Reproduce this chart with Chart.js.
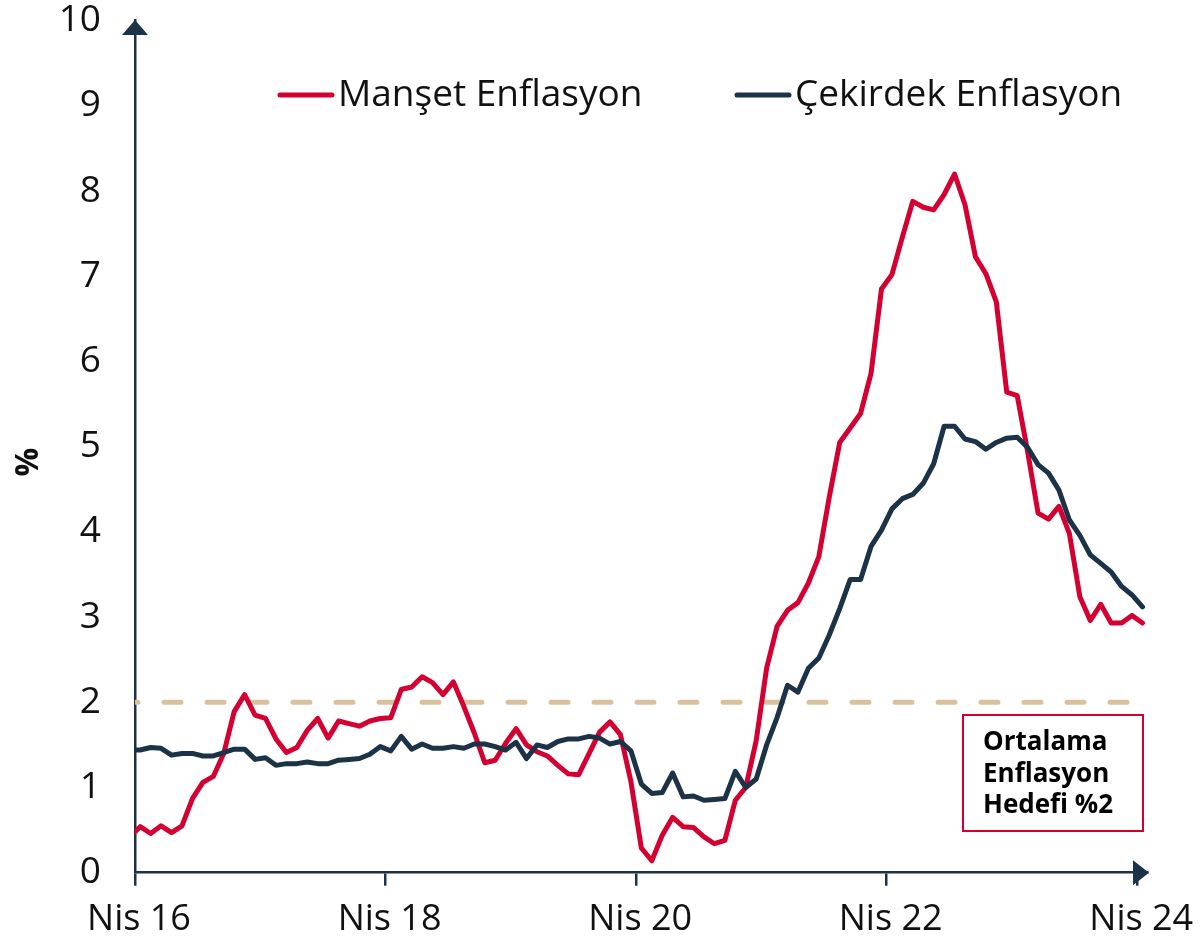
<!DOCTYPE html>
<html>
<head>
<meta charset="utf-8">
<title>Manşet ve Çekirdek Enflasyon</title>
<script src="https://cdn.jsdelivr.net/npm/chart.js@4.4.1/dist/chart.umd.min.js"></script>
<style>
  html, body { margin: 0; padding: 0; background: #fff; }
  #wrap { width: 1201px; height: 948px; }
</style>
</head>
<body>
<div id="wrap"><canvas id="lineChart" width="1201" height="948"></canvas></div>
<script>
// months from Mar 16 to Nis 24 (Turkish short names)
const monthNames = ["Oca", "Şub", "Mar", "Nis", "May", "Haz", "Tem", "Ağu", "Eyl", "Eki", "Kas", "Ara"];
const allMonths = [];
for (let y = 2016; y <= 2024; y++) {
  monthNames.forEach((m) => allMonths.push(m + " " + String(y).slice(2)));
}
const months = allMonths.slice(allMonths.indexOf("Mar 16"), allMonths.indexOf("Nis 24") + 1);

const xTickLabels = ["Nis 16", "Nis 18", "Nis 20", "Nis 22", "Nis 24"];
const yTicks = [0, 1, 2, 3, 4, 5, 6, 7, 8, 9, 10];

// Manşet Enflasyon (%), Mar 16 .. Nis 24
const manset = [
  0.42,
  0.54, 0.46, 0.55, 0.47, 0.55, 0.87, 1.06, 1.13, 1.40, 1.89, 2.09, 1.85,
  1.81, 1.57, 1.41, 1.47, 1.67, 1.81, 1.58, 1.78, 1.75, 1.72, 1.78, 1.81,
  1.82, 2.15, 2.18, 2.30, 2.23, 2.09, 2.24, 1.95, 1.64, 1.29, 1.32, 1.52,
  1.69, 1.50, 1.42, 1.37, 1.26, 1.16, 1.15, 1.40, 1.65, 1.77, 1.62, 1.07,
  0.29, 0.14, 0.44, 0.65, 0.54, 0.53, 0.42, 0.34, 0.38, 0.85, 1.00, 1.55,
  2.40, 2.89, 3.08, 3.17, 3.40, 3.71, 4.41, 5.05, 5.22, 5.39, 5.86, 6.85,
  7.02, 7.46, 7.88, 7.81, 7.78, 7.96, 8.20, 7.84, 7.23, 7.03, 6.70, 5.64,
  5.60, 4.94, 4.22, 4.15, 4.30, 3.98, 3.24, 2.96, 3.15, 2.93, 2.93, 3.02,
  2.93
];

// Çekirdek Enflasyon (%), Mar 16 .. Nis 24
const cekirdek = [
  1.44,
  1.44, 1.47, 1.46, 1.38, 1.40, 1.40, 1.37, 1.37, 1.41, 1.45, 1.45, 1.33,
  1.35, 1.26, 1.28, 1.28, 1.30, 1.28, 1.28, 1.32, 1.33, 1.34, 1.39, 1.48,
  1.43, 1.60, 1.45, 1.51, 1.46, 1.46, 1.48, 1.46, 1.51, 1.51, 1.48, 1.44,
  1.53, 1.34, 1.50, 1.47, 1.54, 1.57, 1.57, 1.60, 1.58, 1.51, 1.54, 1.43,
  1.04, 0.93, 0.94, 1.17, 0.89, 0.90, 0.85, 0.86, 0.87, 1.19, 1.00, 1.10,
  1.50, 1.82, 2.20, 2.12, 2.40, 2.52, 2.79, 3.10, 3.44, 3.44, 3.83, 4.02,
  4.27, 4.39, 4.44, 4.57, 4.80, 5.24, 5.24, 5.09, 5.06, 4.97, 5.05, 5.10,
  5.11, 4.99, 4.79, 4.69, 4.49, 4.14, 3.96, 3.73, 3.63, 3.53, 3.36, 3.26,
  3.12
];

const targetRate = 2;
const targetText = ["Ortalama", "Enflasyon", "Hedefi %2"];

const RED = "#D50032";
const NAVY = "#1C3247";
const TAN = "#D8C29D";
const FONT = "'Open Sans', 'Noto Sans', sans-serif";

// x = months since start of Nis 16, point in mid-month
const toPoints = (arr) => arr.map((v, i) => ({ x: i - 0.5, y: v }));
const lastX = months.length - 1.5;

// legend, arrows, axis title and the target box
const overlay = {
  id: "overlay",
  afterDraw(chart) {
    const { ctx, chartArea } = chart;
    const left = chartArea.left;
    const bottom = chartArea.bottom;
    ctx.save();

    // axis arrows
    ctx.fillStyle = NAVY;
    ctx.beginPath();
    ctx.moveTo(left, 20);
    ctx.lineTo(left - 13, 35);
    ctx.lineTo(left + 13, 35);
    ctx.closePath();
    ctx.fill();
    ctx.beginPath();
    ctx.moveTo(1149, bottom);
    ctx.lineTo(1133, bottom - 12.5);
    ctx.lineTo(1133, bottom + 12.5);
    ctx.closePath();
    ctx.fill();

    // legend
    const items = [
      { ds: chart.data.datasets[0], x: 280 },
      { ds: chart.data.datasets[1], x: 737 },
    ];
    ctx.font = "37px " + FONT;
    ctx.textBaseline = "middle";
    ctx.textAlign = "left";
    items.forEach((it) => {
      ctx.strokeStyle = it.ds.borderColor;
      ctx.lineWidth = 5;
      ctx.lineCap = "round";
      ctx.beginPath();
      ctx.moveTo(it.x, 95);
      ctx.lineTo(it.x + 52, 95);
      ctx.stroke();
      ctx.fillStyle = "#111";
      ctx.fillText(it.ds.label, it.x + 58, 95);
    });

    // y title
    ctx.save();
    ctx.translate(29, 462);
    ctx.rotate(-Math.PI / 2);
    ctx.font = "bold 32px " + FONT;
    ctx.textAlign = "center";
    ctx.fillStyle = "#111";
    ctx.fillText("%", 0, 0);
    ctx.restore();

    // target box
    ctx.strokeStyle = RED;
    ctx.lineWidth = 2;
    ctx.strokeRect(963, 715, 180, 116);
    ctx.font = "bold 26px " + FONT;
    ctx.fillStyle = "#000";
    ctx.textBaseline = "alphabetic";
    targetText.forEach((t, i) => ctx.fillText(t, 983, 750 + i * 31.5));

    ctx.restore();
  },
};

const lineChartCanvas = document.getElementById("lineChart");
const lineChartContext = lineChartCanvas.getContext("2d");

lineChartCanvas.chart = new Chart(lineChartContext, {
  type: "line",
  data: {
    datasets: [
      {
        label: "Manşet Enflasyon",
        data: toPoints(manset),
        borderColor: RED,
        borderWidth: 5,
        pointRadius: 0,
        borderJoinStyle: "round",
        borderCapStyle: "round",
        order: 2,
      },
      {
        label: "Çekirdek Enflasyon",
        data: toPoints(cekirdek),
        borderColor: NAVY,
        borderWidth: 5,
        pointRadius: 0,
        borderJoinStyle: "round",
        borderCapStyle: "round",
        order: 1,
      },
      {
        label: "Hedef",
        data: [{ x: 0, y: targetRate }, { x: lastX, y: targetRate }],
        borderColor: TAN,
        borderWidth: 5,
        borderDash: [17, 26],
        borderDashOffset: 14,
        borderCapStyle: "round",
        pointRadius: 0,
        order: 3,
      },
    ],
  },
  options: {
    responsive: false,
    animation: false,
    layout: { padding: { top: 20.7, right: 53.3, left: 0, bottom: 0 } },
    plugins: { legend: { display: false }, tooltip: { enabled: false } },
    scales: {
      x: {
        type: "linear",
        min: 0,
        max: 97,
        afterBuildTicks: (scale) => {
          scale.ticks = xTickLabels.map((l) => ({ value: months.indexOf(l) - 1 }));
        },
        afterFit: (scale) => {
          scale.height = 75.3;
          scale.paddingLeft = 0;
          scale.paddingRight = 0;
        },
        ticks: {
          callback: (value) => months[value + 1],
          font: { family: FONT, size: 36, lineHeight: 1 },
          color: "#111",
          padding: 16,
          labelOffset: 4,
          maxRotation: 0,
          autoSkip: false,
        },
        grid: {
          display: true,
          drawOnChartArea: false,
          drawTicks: true,
          tickLength: 13,
          color: NAVY,
          lineWidth: 2.5,
        },
        border: { display: true, color: NAVY, width: 2.5 },
      },
      y: {
        min: yTicks[0],
        max: yTicks[yTicks.length - 1],
        afterFit: (scale) => {
          scale.width = 135;
          scale.paddingTop = 0;
          scale.paddingBottom = 0;
        },
        ticks: {
          stepSize: 1,
          font: { family: FONT, size: 37, lineHeight: 1 },
          color: "#111",
          padding: 26,
        },
        grid: { display: false },
        border: { display: true, color: NAVY, width: 2.5 },
      },
    },
  },
  plugins: [overlay],
});
</script>
</body>
</html>
